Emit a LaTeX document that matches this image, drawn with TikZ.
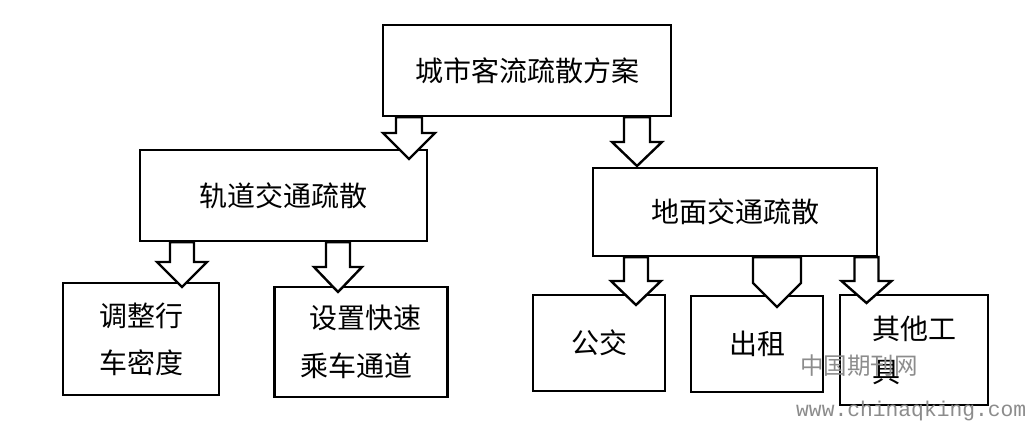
\documentclass[tikz,border=0pt]{standalone}
\usepackage{fontspec}
\setmainfont{Noto Sans CJK SC}
\newfontfamily\wmmono{Liberation Mono}
\usetikzlibrary{calc}
\newcommand{\blockarrow}[5]{% #1 start, #2 tip, #3 shaft half width, #4 head half width, #5 head length
  \draw[blk] let \p1=(#1), \p2=(#2) in
    (\x2-#3,\y1) -- (\x2-#3,\y2+#5) -- (\x2-#4,\y2+#5) -- (\x2,\y2)
    -- (\x2+#4,\y2+#5) -- (\x2+#3,\y2+#5) -- (\x2+#3,\y1) -- cycle;}
\begin{document}
\begin{tikzpicture}[x=1pt,y=-1pt,
  box/.style={draw=black, line width=2.4pt, fill=white, inner sep=0pt,
    font=\fontsize{28}{46}\selectfont, text=black},
  blk/.style={draw=black, line width=2.4pt, fill=white, line join=miter},
  wm/.style={text=black!45, inner sep=0pt}]
\useasboundingbox (0,0) rectangle (1026,422);
\fill[white] (0,0) rectangle (1026,422);
% boxes
\node[box, minimum width=288pt, minimum height=91pt] (top) at (527,70.5) {城市客流疏散方案};
\node[box, minimum width=287pt, minimum height=91pt] (gd) at (283.5,195.5) {轨道交通疏散};
\node[box, minimum width=284pt, minimum height=88pt] (dm) at (735,212) {地面交通疏散};
\node[box, minimum width=156pt, minimum height=112pt, align=left,
      font=\fontsize{28}{47}\selectfont] (tz) at (141,339) {调整行\\车密度};
\node[box, minimum width=173pt, minimum height=110pt, align=left,
      font=\fontsize{28}{48}\selectfont] (sz) at (361,342) {\hspace*{9pt}设置快速\\乘车通道};
\node[box, minimum width=132pt, minimum height=96pt] (gj) at (599,343) {公交};
\node[box, minimum width=132pt, minimum height=96pt] (cz) at (757,344) {出租};
\node[box, minimum width=148pt, minimum height=110pt, align=left,
      font=\fontsize{28}{43}\selectfont] (qt) at (914,350) {其他工\\具};
% arrow coordinates
\coordinate (s1) at (409,0 |- top.south);  \coordinate (t1) at (409,159);
\coordinate (s2) at (637,0 |- top.south);  \coordinate (t2) at (637,166);
\coordinate (s3) at (182,0 |- gd.south);   \coordinate (t3) at (182,287);
\coordinate (s4) at (338,0 |- gd.south);   \coordinate (t4) at (338,292);
\coordinate (s5) at (636,0 |- dm.south);   \coordinate (t5) at (636,305);
\coordinate (s6) at (777,0 |- dm.south);   \coordinate (t6) at (777,307);
\coordinate (s7) at (866.5,0 |- dm.south); \coordinate (t7) at (866.5,303);
% block arrows
\blockarrow{s1}{t1}{13pt}{26pt}{26pt}
\blockarrow{s2}{t2}{13pt}{25pt}{24pt}
\blockarrow{s3}{t3}{12pt}{25pt}{25pt}
\blockarrow{s4}{t4}{12pt}{24pt}{25pt}
\blockarrow{s5}{t5}{12pt}{25pt}{24pt}
\blockarrow{s6}{t6}{24pt}{24pt}{24pt}
\blockarrow{s7}{t7}{12pt}{25pt}{22pt}
% watermark
\node[wm, font=\fontsize{23.5}{23.5}\selectfont, anchor=west] (wm1) at (800,366) {中国期刊网};
\node[wm, font=\wmmono\fontsize{21.3}{21.3}\selectfont, anchor=west] (wm2) at (796,411) {www.chinaqking.com};
\end{tikzpicture}
\end{document}
